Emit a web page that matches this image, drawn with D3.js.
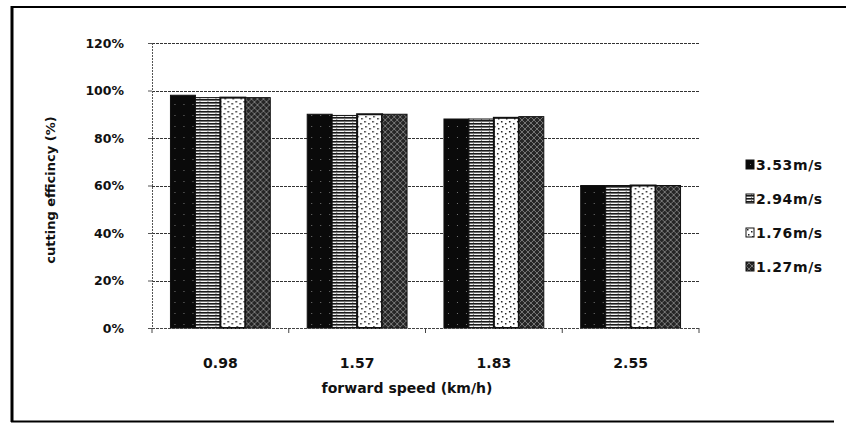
<!DOCTYPE html>
<html>
<head>
<meta charset="utf-8">
<script src="https://cdn.jsdelivr.net/npm/d3@7"></script>
<style>
  body { margin: 0; background: #fff; }
  svg { display: block; }
  text { font-family: "DejaVu Sans", sans-serif; font-weight: bold; fill: #111; }
</style>
</head>
<body>
<div id="chart"></div>
<script>
// forward speed categories (km/h)
var categories = ['0.98', '1.57', '1.83', '2.55'];
// cutting speed series (legend)
var seriesNames = ['3.53m/s', '2.94m/s', '1.76m/s', '1.27m/s'];
// cutting efficiency (%) per series, one value per category
var eff353 = [98, 90, 88, 60];
var eff294 = [97, 89.5, 88, 60];
var eff176 = [97, 90, 88.5, 60];
var eff127 = [97, 90, 89, 60];
var yTicks = [0, 20, 40, 60, 80, 100, 120];

var seriesValues = [eff353, eff294, eff176, eff127];
var fills = ['url(#pSolid)', 'url(#pStripe)', 'url(#pDots)', 'url(#pCross)'];

var W = 846, H = 423;
var plot = {left: 152, right: 699, top: 43, bottom: 328};

var svg = d3.select('#chart').append('svg')
    .attr('width', W)
    .attr('height', H);

// fill patterns, scanned-print look
var defs = svg.append('defs');

var pSolid = defs.append('pattern').attr('id', 'pSolid')
    .attr('patternUnits', 'userSpaceOnUse').attr('width', 9).attr('height', 11);
pSolid.append('rect').attr('width', 9).attr('height', 11).attr('fill', '#0a0a0a');
pSolid.append('rect').attr('x', 4).attr('y', 5).attr('width', 1).attr('height', 1).attr('fill', '#777');

var pStripe = defs.append('pattern').attr('id', 'pStripe')
    .attr('patternUnits', 'userSpaceOnUse').attr('width', 8).attr('height', 3);
pStripe.append('rect').attr('width', 8).attr('height', 3).attr('fill', '#f4f4f4');
pStripe.append('rect').attr('width', 8).attr('height', 1.6).attr('fill', '#1a1a1a');
pStripe.append('rect').attr('x', 5).attr('y', 1.6).attr('width', 1).attr('height', 1.4).attr('fill', '#888');

var pDots = defs.append('pattern').attr('id', 'pDots')
    .attr('patternUnits', 'userSpaceOnUse').attr('width', 8).attr('height', 10);
pDots.append('rect').attr('width', 8).attr('height', 10).attr('fill', '#fff');
[[1, 1], [5, 3], [2, 6], [6, 8]].forEach(function(d) {
    pDots.append('rect').attr('x', d[0]).attr('y', d[1])
        .attr('width', 1.5).attr('height', 1.5).attr('fill', '#222');
});

var pCross = defs.append('pattern').attr('id', 'pCross')
    .attr('patternUnits', 'userSpaceOnUse').attr('width', 6).attr('height', 6);
pCross.append('rect').attr('width', 6).attr('height', 6).attr('fill', '#262626');
pCross.append('path').attr('d', 'M0,0 L6,6 M6,0 L0,6')
    .attr('stroke', '#999').attr('stroke-width', 0.7);

// outer frame (left, top, bottom edges only, like the scan)
svg.append('line').attr('x1', 12).attr('x2', 12).attr('y1', 6).attr('y2', 422)
    .attr('stroke', '#000').attr('stroke-width', 3);
svg.append('line').attr('x1', 11).attr('x2', 846).attr('y1', 7).attr('y2', 7)
    .attr('stroke', '#000').attr('stroke-width', 2);
svg.append('line').attr('x1', 11).attr('x2', 834).attr('y1', 421.5).attr('y2', 421.5)
    .attr('stroke', '#000').attr('stroke-width', 2);

// scales
var x0 = d3.scaleBand()
    .domain(categories)
    .range([plot.left, plot.right])
    .paddingInner(0.27)
    .paddingOuter(0.135);

var x1 = d3.scaleBand()
    .domain(d3.range(seriesNames.length))
    .range([0, x0.bandwidth()]);

var y = d3.scaleLinear()
    .domain([0, 120])
    .range([plot.bottom, plot.top]);

// gridlines
svg.append('g')
    .selectAll('line')
    .data(yTicks.slice(1))
    .enter().append('line')
        .attr('x1', plot.left)
        .attr('x2', plot.right)
        .attr('y1', function(d) { return Math.round(y(d)) + 0.5; })
        .attr('y2', function(d) { return Math.round(y(d)) + 0.5; })
        .attr('stroke', '#333')
        .attr('stroke-width', 1)
        .attr('stroke-dasharray', '3,1');

// y axis
var yAxis = svg.append('g')
    .attr('transform', 'translate(' + plot.left + ',0)')
    .call(d3.axisLeft(y).tickValues(yTicks).tickSize(4).tickFormat(function(d) { return d + '%'; }));
yAxis.select('.domain').attr('stroke', '#555').attr('stroke-dasharray', '2,1');
yAxis.selectAll('.tick line').attr('stroke', '#555');
yAxis.selectAll('.tick text')
    .attr('x', -28)
    .attr('font-size', 12.5)
    .attr('font-family', '"DejaVu Sans", sans-serif')
    .attr('font-weight', 'bold')
    .attr('fill', '#111');

// bars
var groups = svg.append('g')
    .selectAll('g')
    .data(categories)
    .enter().append('g')
        .attr('transform', function(d) { return 'translate(' + x0(d) + ',0)'; });

groups.selectAll('rect')
    .data(function(d, ci) {
        return seriesValues.map(function(vals, si) { return {si: si, v: vals[ci]}; });
    })
    .enter().append('rect')
        .attr('x', function(d) { return x1(d.si); })
        .attr('y', function(d) { return y(d.v); })
        .attr('width', x1.bandwidth())
        .attr('height', function(d) { return y(0) - y(d.v); })
        .attr('fill', function(d) { return fills[d.si]; })
        .attr('stroke', '#111')
        .attr('stroke-width', function(d) { return d.si === 2 ? 2 : 1; });

// x axis
var xAxis = svg.append('g')
    .attr('transform', 'translate(0,' + plot.bottom + ')');
xAxis.append('line')
    .attr('x1', plot.left).attr('x2', plot.right)
    .attr('y1', 0.5).attr('y2', 0.5)
    .attr('stroke', '#444').attr('stroke-dasharray', '3,1');
xAxis.selectAll('.bound')
    .data(d3.range(categories.length + 1))
    .enter().append('line')
        .attr('x1', function(i) { return plot.left + i * x0.step(); })
        .attr('x2', function(i) { return plot.left + i * x0.step(); })
        .attr('y1', 0).attr('y2', 5)
        .attr('stroke', '#444');
xAxis.selectAll('text')
    .data(categories)
    .enter().append('text')
        .attr('x', function(d) { return x0(d) + x0.bandwidth() / 2; })
        .attr('y', 40)
        .attr('text-anchor', 'middle')
        .attr('font-size', 14)
        .text(function(d) { return d; });

// axis titles
svg.append('text')
    .attr('x', 407)
    .attr('y', 393)
    .attr('text-anchor', 'middle')
    .attr('font-size', 14)
    .text('forward speed (km/h)');

svg.append('text')
    .attr('transform', 'translate(55,190) rotate(-90)')
    .attr('text-anchor', 'middle')
    .attr('font-size', 13)
    .text('cutting efficincy (%)');

// legend
var legend = svg.append('g')
    .selectAll('g')
    .data(seriesNames)
    .enter().append('g')
        .attr('transform', function(d, i) { return 'translate(746,' + (170 + i * 34) + ')'; });

legend.append('rect')
    .attr('x', 0).attr('y', -10)
    .attr('width', 8).attr('height', 9)
    .attr('fill', function(d, i) { return fills[i]; })
    .attr('stroke', '#111')
    .attr('stroke-width', 1);

legend.append('text')
    .attr('x', 10)
    .attr('y', 0)
    .attr('font-size', 14)
    .attr('letter-spacing', 0.6)
    .text(function(d) { return d; });
</script>
</body>
</html>
